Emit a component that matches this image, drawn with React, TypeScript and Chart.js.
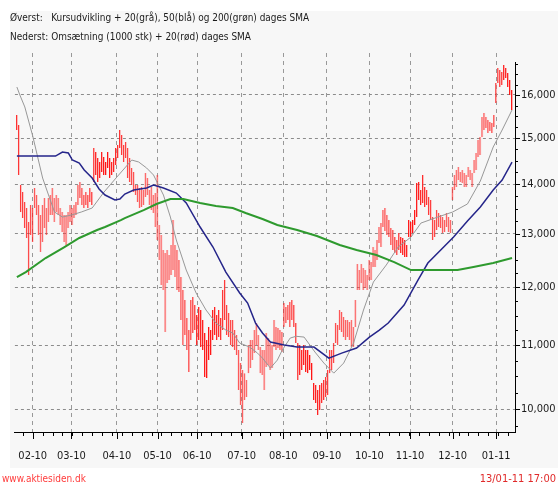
import React, { useEffect, useRef } from 'react';
import { Chart, registerables } from 'chart.js';

Chart.register(...registerables);

// Daily price range (high / low), trading-day index 0..250
const highs = [
  15528, 15297, 13983, 13838, 13633, 13510, 13230, 13571, 13510, 13920,
  13775, 13571, 13369, 13571, 13714, 13510, 13714, 13775, 13920, 13714,
  13775, 13714, 13510, 13429, 13369, 13369, 13429, 13571, 13510, 13571,
  13633, 13983, 14046, 13920, 13775, 13837, 13775, 13920, 13837, 14780,
  14691, 14560, 14473, 14691, 14581, 14473, 14691, 14560, 14473, 14560,
  14780, 14846, 15183, 15070, 14846, 14913, 14780, 14560, 14344, 14258,
  13983, 13983, 13920, 13941, 13879, 14236, 14130, 13879, 13941, 13775,
  13816, 14194, 13170, 12975, 12687, 12630, 12687, 12592, 12782, 13269,
  12782, 12687, 12498, 12184, 11949, 11772, 11458, 11255, 11772, 11825,
  11684, 11510, 11649, 11597, 11424, 11205, 11087, 11305, 11255, 11597,
  11649, 11510, 11597, 11458, 11949, 12129, 11684, 11545, 11424, 11424,
  11255, 11171, 10923, 10712, 10600, 10552, 10443, 11005, 11087, 11087,
  11255, 11373, 11171, 10972, 10923, 10923, 11205, 11121, 11038, 11005,
  11424, 11305, 11288, 11255, 11221, 11719, 11649, 11684, 11737, 11772,
  11684, 11373, 11038, 11005, 10923, 11005, 10923, 10923, 10841, 10712,
  10396, 10365, 10288, 10365, 10396, 10443, 10490, 10600, 10923, 10923,
  11038, 11373, 11339, 11597, 11562, 11475, 11424, 11424, 11390, 11424,
  11305, 11772, 12423, 12312, 12423, 12349, 12312, 12221, 12498, 12460,
  12744, 12687, 12878, 13131, 13209, 13469, 13510, 13369, 13269, 13111,
  13072, 12936, 12878, 13013, 12936, 12917, 12878, 12782, 13269, 13230,
  13269, 13469, 14025, 14046, 13879, 14194, 13941, 13879, 13734, 13673,
  13329, 13269, 13469, 13409, 13369, 13329, 13269, 13409, 13329, 13269,
  13941, 14194, 14301, 14365, 14258, 14301, 14236, 14194, 14365, 14301,
  14236, 14516, 14669, 14958, 15025, 15482, 15575, 15482, 15412, 15366,
  15343, 15528, 16289, 16660, 16610, 16560, 16735, 16660, 16536, 16363,
  16120,
];

const lows = [
  15183, 14194, 13430, 13309, 13111, 12917, 12221, 12975, 12840, 13510,
  13369, 12975, 12649, 12840, 13111, 12975, 13230, 13369, 13369, 13230,
  13430, 13369, 13170, 13033, 12840, 12782, 13111, 13230, 13170, 13309,
  13369, 13571, 13714, 13571, 13510, 13571, 13510, 13633, 13571, 14046,
  14194, 14046, 14130, 14258, 14194, 14194, 14344, 14130, 14194, 14258,
  14408, 14560, 14780, 14625, 14473, 14560, 14130, 14046, 13983, 13837,
  13775, 13633, 13510, 13531, 13571, 13734, 13775, 13571, 13469, 13409,
  13131, 12878, 12498, 12039, 11949, 11221, 12075, 12129, 12221, 12312,
  12184, 11949, 11913, 11424, 11005, 11171, 10923, 10568, 11087, 11205,
  11255, 11005, 11087, 10972, 10923, 10490, 10474, 10760, 10841, 11087,
  11171, 11087, 11137, 11087, 11255, 11424, 11171, 11137, 11005, 10972,
  10923, 10841, 10288, 10059, 9792, 10135, 10181, 10552, 10632, 10760,
  10873, 11005, 10923, 10552, 10521, 10288, 10648, 10680, 10600, 10632,
  10972, 10923, 10956, 10923, 10890, 11305, 11373, 11424, 11305, 11424,
  11305, 11038, 10443, 10521, 10600, 10680, 10568, 10552, 10600, 10443,
  10135, 10090, 9910, 9984, 10090, 10135, 10181, 10211, 10552, 10600,
  10712, 11038, 11005, 11255, 11221, 11137, 11087, 11137, 11087, 10972,
  10972, 11305, 11949, 11949, 12075, 11949, 11985, 11949, 12129, 12129,
  12367, 12367, 12498, 12820, 12744, 13131, 13052, 12975, 12936, 12782,
  12687, 12630, 12592, 12687, 12630, 12592, 12554, 12554, 12936, 12936,
  13013, 13170, 13329, 13673, 13571, 13612, 13531, 13571, 13369, 13269,
  12878, 12936, 13072, 13131, 13111, 13013, 13033, 13131, 13033, 13013,
  13673, 13879, 13941, 14088, 14046, 14025, 13941, 13941, 14152, 14088,
  13941, 14236, 14301, 14581, 14625, 15025, 15183, 15228, 15115, 15160,
  15115, 15251, 15810, 16289, 16193, 16241, 16363, 16412, 16193, 16000,
  15645,
];

// 20-day SMA (grey)
const sma20Idx = [0, 1.5, 4, 8, 13, 16.5, 19, 23, 27.5, 32.5, 38, 44, 50.5, 58, 61.5, 65.5, 69, 74, 77.5, 80.5, 85.5, 90.5, 95.5, 100.5, 105.5, 109, 112.5, 117.5, 121.5, 124, 128, 131.5, 134, 138, 141, 145, 150.5, 155, 160, 165, 170, 175, 180, 186.5, 192.5, 199, 204, 212.5, 220, 227.5, 234, 240.5, 245, 250];
const sma20Val = [16192, 16000, 15716, 15047, 14130, 13714, 13429, 13329, 13369, 13429, 13510, 13837, 14152, 14516, 14473, 14344, 14194, 13775, 13329, 12878, 12312, 11896, 11597, 11373, 11255, 11205, 11038, 10972, 10873, 10792, 10632, 10760, 10923, 11121, 11150, 11137, 10890, 10712, 10552, 10712, 11038, 11597, 12093, 12405, 12744, 12936, 13209, 13329, 13429, 13592, 14067, 14802, 15183, 15645];

// 50-day SMA (blue)
const sma50Idx = [0, 9, 19.5, 23, 26, 28, 31.5, 34, 38, 41.5, 44.5, 49.5, 52, 54.5, 59, 65.5, 69, 74, 80.5, 85.5, 92.5, 99, 105.5, 112.5, 116.5, 120.5, 124, 128, 135, 141.5, 150, 157.5, 164, 171.5, 178, 183, 187.5, 195.5, 202.5, 207.5, 214, 220.5, 227.5, 234, 240.5, 245, 250];
const sma50Val = [14603, 14603, 14603, 14691, 14669, 14516, 14451, 14301, 14130, 13900, 13775, 13673, 13694, 13796, 13879, 13920, 13983, 13920, 13816, 13612, 13131, 12744, 12275, 11896, 11719, 11373, 11205, 11054, 11005, 10972, 10972, 10792, 10873, 10956, 11137, 11255, 11373, 11684, 12129, 12442, 12687, 12936, 13249, 13531, 13879, 14088, 14473];

// 200-day SMA (green)
const sma200Idx = [0, 4.5, 14.5, 24, 31.5, 40.5, 44.5, 52.5, 54.5, 64, 70.5, 77.5, 84, 92.5, 100.5, 109, 115.5, 124, 131.5, 141.5, 151.5, 163, 171.5, 181.5, 190.5, 199, 222.5, 230.5, 240.5, 250];
const sma200Val = [12184, 12275, 12536, 12744, 12917, 13072, 13131, 13269, 13309, 13469, 13592, 13694, 13694, 13612, 13551, 13510, 13409, 13289, 13170, 13072, 12956, 12782, 12687, 12592, 12460, 12312, 12312, 12367, 12442, 12536];

// Month ticks (position in trading-day index) and labels
const monthTickIdx = [8, 27.5, 50.5, 71, 91, 113.5, 134.5, 156.5, 178, 198.5, 220, 242];
const monthLabels = ['02-10', '03-10', '04-10', '05-10', '06-10', '07-10', '08-10', '09-10', '10-10', '11-10', '12-10', '01-11'];

const yTickValues = [10000, 11000, 12000, 13000, 14000, 15000, 16000];

const titleTop = ['Øverst:', 'Kursudvikling + 20(grå), 50(blå) og 200(grøn) dages SMA'];
const titleBottom = ['Nederst:', 'Omsætning (1000 stk) + 20(rød) dages SMA'];
const footerLeft = 'www.aktiesiden.dk';
const footerRight = '13/01-11 17:00';

const FONT_FAMILY = '"DejaVu Sans Condensed", "Liberation Sans", sans-serif';

const fmt = (v: number) => String(Math.round(v)).replace(/\B(?=(\d{3})+(?!\d))/g, ',');

const decorPlugin = {
  id: 'decor',
  beforeDraw(chart: any) {
    const ctx = chart.ctx;
    ctx.save();
    ctx.fillStyle = '#ffffff';
    ctx.fillRect(0, 0, chart.width, chart.height);
    ctx.fillStyle = '#f7f7f7';
    ctx.fillRect(10, 11, chart.width - 10, 457);
    ctx.restore();
  },
  afterDraw(chart: any) {
    const ctx = chart.ctx;
    const xs = chart.scales.x;
    const ys = chart.scales.y;
    const area = chart.chartArea;
    ctx.save();
    ctx.strokeStyle = '#000';
    ctx.lineWidth = 1;
    ctx.beginPath();
    // right axis line
    const ax = Math.round(area.right) + 0.5;
    ctx.moveTo(ax, area.top + 9);
    ctx.lineTo(ax, area.bottom);
    monthTickIdx.forEach((v) => {
      const px = Math.round(xs.getPixelForValue(v)) + 0.5;
      ctx.moveTo(px, area.bottom);
      ctx.lineTo(px, area.bottom + 7);
    });
    for (let v = 3; v <= 250; v += 5) {
      const px = Math.round(xs.getPixelForValue(v)) + 0.5;
      ctx.moveTo(px, area.bottom);
      ctx.lineTo(px, area.bottom + 4);
    }
    for (let v = 9750; v <= 16750; v += 250) {
      const py = Math.round(ys.getPixelForValue(v)) + 0.5;
      const len = v % 1000 === 0 ? 5 : 3;
      ctx.moveTo(area.right, py);
      ctx.lineTo(area.right + len, py);
    }
    ctx.stroke();

    ctx.fillStyle = '#1a1a1a';
    ctx.font = `11px ${FONT_FAMILY}`;
    ctx.textBaseline = 'alphabetic';
    ctx.textAlign = 'left';
    const squeeze = 0.905;
    const put = (t: string, x: number, y: number) => {
      const w = ctx.measureText(t).width * squeeze;
      ctx.fillText(t, x, y, w);
      return w;
    };
    const indent = 10 + (ctx.measureText(titleBottom[0] + ' ').width * squeeze);
    put(titleTop[0], 10, 21);
    put(titleTop[1], indent, 21);
    put(titleBottom[0], 10, 40);
    put(titleBottom[1], indent, 40);

    ctx.fillStyle = '#ff3b3b';
    put(footerLeft, 2, 482);
    ctx.fillStyle = '#e02a2a';
    ctx.textAlign = 'right';
    ctx.fillText(footerRight, 556, 482);
    ctx.restore();
  },
};

export default function App() {
  const canvasRef = useRef<HTMLCanvasElement | null>(null);

  useEffect(() => {
    const canvas = canvasRef.current;
    if (!canvas) return;

    const bars = highs.map((h, i) => ({ x: i, y: [lows[i], h] }));
    const toPts = (idx: number[], val: number[]) => idx.map((x, i) => ({ x, y: val[i] }));

    const chart = new Chart(canvas, {
      type: 'bar',
      data: {
        datasets: [
          {
            type: 'line',
            label: '200 dages SMA',
            data: toPts(sma200Idx, sma200Val),
            borderColor: '#2e9a2e',
            borderWidth: 2,
            pointRadius: 0,
            tension: 0,
            order: 1,
          } as any,
          {
            type: 'line',
            label: '50 dages SMA',
            data: toPts(sma50Idx, sma50Val),
            borderColor: '#25258a',
            borderWidth: 1.5,
            pointRadius: 0,
            tension: 0,
            order: 2,
          } as any,
          {
            type: 'line',
            label: '20 dages SMA',
            data: toPts(sma20Idx, sma20Val),
            borderColor: '#989898',
            borderWidth: 1,
            pointRadius: 0,
            tension: 0,
            order: 3,
          } as any,
          {
            type: 'bar',
            label: 'Kurs',
            data: bars,
            backgroundColor: 'rgba(255,110,110,0.5)',
            borderColor: '#ff1414',
            borderWidth: { left: 1, right: 0, top: 0, bottom: 0 },
            borderSkipped: false,
            barThickness: 2,
            inflateAmount: 0,
            order: 10,
          } as any,
        ],
      },
      options: {
        responsive: false,
        maintainAspectRatio: false,
        animation: false,
        devicePixelRatio: 1,
        layout: { padding: { left: 10, top: 53, right: 0, bottom: 0 } },
        plugins: {
          legend: { display: false },
          tooltip: { enabled: false },
          title: { display: false },
        },
        scales: {
          x: {
            type: 'linear',
            offset: false,
            min: -1,
            max: 251.5,
            afterBuildTicks: (s: any) => {
              s.ticks = monthTickIdx.map((v) => ({ value: v }));
            },
            afterFit: (s: any) => {
              s.height = 52;
            },
            grid: { color: '#999999', lineWidth: 1, drawTicks: false, offset: false },
            border: { display: true, color: '#000000', width: 1, dash: [4, 4] },
            ticks: {
              autoSkip: false,
              maxRotation: 0,
              padding: 18,
              color: '#1a1a1a',
              font: { family: FONT_FAMILY, size: 11 },
              callback: (_v: any, i: number) => monthLabels[i],
            },
          },
          y: {
            type: 'logarithmic',
            position: 'right',
            min: 9662,
            max: 17038,
            afterBuildTicks: (s: any) => {
              s.ticks = yTickValues.map((v) => ({ value: v }));
            },
            afterFit: (s: any) => {
              s.width = 43;
            },
            grid: { color: '#8c8c8c', lineWidth: 1, drawTicks: false },
            border: { display: false, color: '#000000', width: 1, dash: [3, 3] },
            ticks: {
              padding: 6,
              color: '#1a1a1a',
              font: { family: FONT_FAMILY, size: 11 },
              callback: (v: any) => fmt(Number(v)),
            },
          },
        },
      } as any,
      plugins: [decorPlugin],
    });

    return () => chart.destroy();
  }, []);

  return (
    <div style={{ position: 'fixed', left: 0, top: 0, width: 558, height: 484 }}>
      <canvas ref={canvasRef} width={558} height={484} style={{ display: 'block', width: 558, height: 484 }} />
    </div>
  );
}
